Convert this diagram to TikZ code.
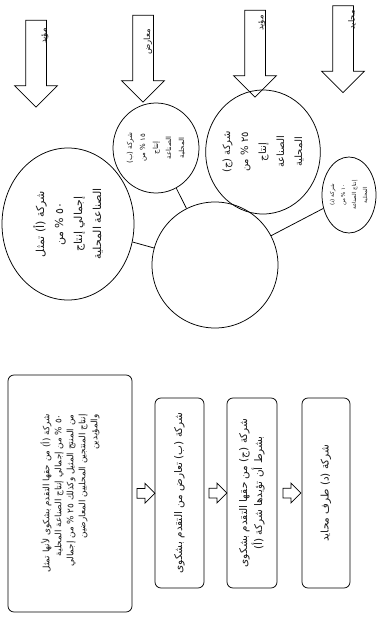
\documentclass[tikz,border=0pt]{standalone}
\usepackage{fontspec}
\newfontfamily\arabicfont[Script=Arabic]{DejaVu Sans}
\TeXXeTstate=1
\usetikzlibrary{shapes.geometric, shapes.arrows, calc}
\newcommand{\ar}[1]{{\arabicfont\beginR #1\endR}}

\begin{document}
\begin{tikzpicture}[x=1pt, y=-1pt, line width=0.75pt,
  every node/.style={text=black!90},
  bigarrow/.style={single arrow, draw, inner sep=10pt, single arrow head extend=11pt, rotate=-90},
  smallarrow/.style={single arrow, draw, inner sep=4.5pt, single arrow head extend=5pt, minimum height=18pt},
  box/.style={draw, rounded corners=6pt, rotate=90, align=center, inner sep=2pt},
  company/.style={ellipse, draw, rotate=90, align=center, inner sep=0pt},
  tag/.style={rotate=90, font=\fontsize{8.5}{9}\selectfont}]
  \useasboundingbox (0,0) rectangle (376,621);

  % الأسهم العلوية
  \node[bigarrow, minimum height=87pt] (pA) at (36,58.5) {};
  \node[bigarrow, minimum height=87pt] (pB) at (143,53.5) {};
  \node[bigarrow, minimum height=87pt] (pC) at (255,48.5) {};
  \node[bigarrow, minimum height=87pt] (pD) at (343,44) {};

  \node[tag] (lA) at (45,36) {\ar{مؤيد}};
  \node[tag] (lB) at (148,42) {\ar{معارض}};
  \node[tag] (lC) at (262,23) {\ar{مؤيد}};
  \node[tag] (lD) at (352,20) {\ar{محايد}};

  % الدوائر
  \node[circle, draw, minimum size=126pt] (M) at (215,265) {};
  \node[company, minimum width=152pt, minimum height=132pt, font=\fontsize{11}{19}\selectfont] (cA) at (68,224)
    {\ar{شركة (أ) تمثل}\\\ar{٥٠ \% من}\\\ar{إجمالي إنتاج}\\\ar{الصناعة المحلية}};
  \node[company, minimum width=90pt, minimum height=86pt, font=\fontsize{7}{13}\selectfont] (cB) at (156,148)
    {\ar{شركة (ب)}\\\ar{١٥ \% من}\\\ar{إنتاج}\\\ar{الصناعة}\\\ar{المحلية}};
  \node[company, minimum width=124pt, minimum height=110pt, font=\fontsize{10}{18}\selectfont] (cC) at (263,152)
    {\ar{شركة (ج)}\\\ar{٢٥ \% من}\\\ar{إنتاج}\\\ar{الصناعة}\\\ar{المحلية}};
  \node[company, minimum width=76pt, minimum height=54pt, font=\fontsize{5.5}{11}\selectfont] (cD) at (349,195)
    {\ar{شركة (د)}\\\ar{١٠ \% من}\\\ar{إنتاج الصناعة}\\\ar{المحلية}};

  \draw (cA) -- (M);
  \draw (cB) -- (M);
  \draw (cD) -- (M);

  % المستطيلات
  \node[box, minimum width=237pt, minimum height=124pt, align=right, font=\fontsize{8.8}{12}\selectfont] (b1) at (70,493.5)
    {\ar{شركة (أ) من حقها التقدم بشكوى لأنها تمثل}\\
     \ar{٥٠ \% من إجمالي إنتاج الصناعة المحلية}\\
     \ar{من المنتج المثيل وكذلك ٢٥ \% من إجمالي}\\
     \ar{إنتاج المنتجين المحليين المعارضين}\\
     \ar{والمؤيدين}};
  \node[box, minimum width=190pt, minimum height=49pt, font=\fontsize{10.5}{15}\selectfont] (b2) at (179.5,493)
    {\ar{شركة (ب) تعارض من التقدم بشكوى}};
  \node[box, minimum width=190pt, minimum height=50pt, font=\fontsize{10.5}{15}\selectfont] (b3) at (252,493)
    {\ar{شركة (ج) من حقها التقدم بشكوى}\\\ar{بشرط أن تؤيدها شركة (أ)}};
  \node[box, minimum width=190pt, minimum height=48pt, font=\fontsize{10.5}{15}\selectfont] (b4) at (326,493)
    {\ar{شركة (د) طرف محايد}};

  \node[smallarrow] (s1) at ($(b1.south)!0.5!(b2.north)$) {};
  \node[smallarrow] (s2) at ($(b2.south)!0.5!(b3.north)$) {};
  \node[smallarrow] (s3) at ($(b3.south)!0.5!(b4.north)$) {};
\end{tikzpicture}
\end{document}
